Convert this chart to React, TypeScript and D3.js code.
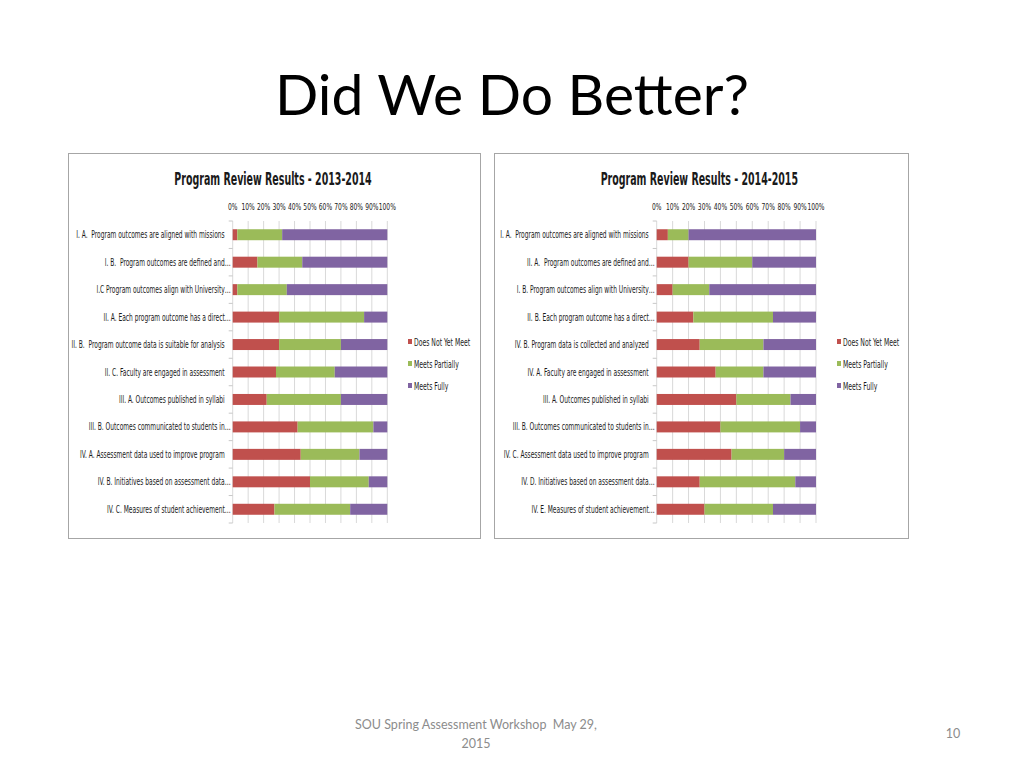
import React from "react";
import * as d3 from "d3";

// 2013-2014 review
const cats1314 = [
  "I. A.  Program outcomes are aligned with missions",
  "I. B.  Program outcomes are defined and…",
  "I.C Program outcomes align with University…",
  "II. A. Each program outcome has a direct…",
  "II. B.  Program outcome data is suitable for analysis",
  "II. C. Faculty are engaged in assessment",
  "III. A. Outcomes published in syllabi",
  "III. B. Outcomes communicated to students in…",
  "IV. A. Assessment data used to improve program",
  "IV. B. Initiatives based on assessment data…",
  "IV. C. Measures of student achievement…",
];
const notYet1314 = [3, 16, 3, 30, 30, 28, 22, 42, 44, 50, 27];
const partial1314 = [29, 29, 32, 55, 40, 38, 48, 49, 38, 38, 49];
const fully1314 = [68, 55, 65, 15, 30, 34, 30, 9, 18, 12, 24];

// 2014-2015 review
const cats1415 = [
  "I. A.  Program outcomes are aligned with missions",
  "II. A.  Program outcomes are defined and…",
  "I. B. Program outcomes align with University…",
  "II. B. Each program outcome has a direct…",
  "IV. B. Program data is collected and analyzed",
  "IV. A. Faculty are engaged in assessment",
  "III. A. Outcomes published in syllabi",
  "III. B. Outcomes communicated to students in…",
  "IV. C. Assessment data used to improve program",
  "IV. D. Initiatives based on assessment data…",
  "IV. E. Measures of student achievement…",
];
const notYet1415 = [7, 20, 10, 23, 27, 37, 50, 40, 47, 27, 30];
const partial1415 = [13, 40, 23, 50, 40, 30, 34, 50, 33, 60, 43];
const fully1415 = [80, 40, 67, 27, 33, 33, 16, 10, 20, 13, 27];

const seriesNames = ["Does Not Yet Meet", "Meets Partially", "Meets Fully"];
const seriesColors = ["#c0504d", "#9bbb59", "#8064a2"];
const tickLabels = [0, 10, 20, 30, 40, 50, 60, 70, 80, 90, 100];

const narrow = "'Liberation Sans Narrow', 'DejaVu Sans Condensed', sans-serif";

// the chart pictures are squeezed sideways, so text gets a horizontal scale
const SText = ({ x, y, size, sx = 0.66, anchor = "start", weight = "normal", children }: any) => (
  <text
    transform={`translate(${x},${y}) scale(${sx},1)`}
    fontFamily={narrow}
    fontSize={size}
    fontWeight={weight}
    textAnchor={anchor}
    fill="#1a1a1a"
    style={{ whiteSpace: "pre" }}
  >
    {children}
  </text>
);

const Chart = ({ left, right, plotX0, plotX1, legendX, title, cats, a, b, c }: any) => {
  const top = 221;
  const bottom = 523;
  const x = d3.scaleLinear().domain([0, 100]).range([plotX0, plotX1]);
  const y = d3.scaleBand().domain(cats).range([top, bottom]).paddingInner(0.6).paddingOuter(0.3);
  const rows = cats.map((k: string, i: number) => ({ k, s0: a[i], s1: b[i], s2: c[i] }));
  const stack = d3.stack<any>().keys(["s0", "s1", "s2"]).offset(d3.stackOffsetExpand);
  const layers = stack(rows);
  const step = y.step();
  const bounds = d3.range(cats.length + 1).map((i) => top + i * step);

  return (
    <g>
      <rect x={left + 0.5} y={153.5} width={right - left} height={385} fill="#fff" stroke="#a6a6a6" />
      <SText x={(plotX0 + plotX1) / 2 - 37} y={185} size={17} sx={0.62} weight="bold" anchor="middle">
        {title}
      </SText>
      {tickLabels.map((t) => (
        <g key={t}>
          <line x1={x(t)} x2={x(t)} y1={top} y2={bottom} stroke="#d9d9d9" strokeWidth={1} />
          <SText x={x(t)} y={210} size={9.5} sx={0.7} anchor="middle">
            {t + "%"}
          </SText>
        </g>
      ))}
      {bounds.map((by, i) => (
        <line key={i} x1={plotX0 - 4} x2={plotX0} y1={by} y2={by} stroke="#c8c8c8" />
      ))}
      {layers.map((layer, li) => (
        <g key={li} fill={seriesColors[li]}>
          {layer.map((d: any, i: number) => (
            <rect
              key={i}
              x={x(d[0] * 100)}
              y={y(d.data.k)}
              width={x(d[1] * 100) - x(d[0] * 100)}
              height={y.bandwidth()}
            />
          ))}
        </g>
      ))}
      {cats.map((k: string) => (
        <SText
          key={k}
          x={k.endsWith("…") ? plotX0 - 2 : plotX0 - 8}
          y={(y(k) as number) + y.bandwidth() / 2 + 3.5}
          size={10}
          anchor="end"
        >
          {k}
        </SText>
      ))}
      {seriesNames.map((n, i) => (
        <g key={n}>
          <rect x={legendX} y={339 + i * 22} width={4} height={5} fill={seriesColors[i]} />
          <SText x={legendX + 6} y={345.5 + i * 22} size={10} sx={0.68}>
            {n}
          </SText>
        </g>
      ))}
    </g>
  );
};

export default function App() {
  return (
    <svg
      width={1024}
      height={768}
      style={{ position: "absolute", left: 0, top: 0, background: "#fff" }}
    >
      <text
        x={512}
        y={115}
        textAnchor="middle"
        fontFamily="Lato, 'Open Sans', sans-serif"
        fontSize={57}
        fill="#000"
      >
        Did We Do Better?
      </text>
      <Chart
        left={68}
        right={480}
        plotX0={232.7}
        plotX1={387.3}
        legendX={408}
        title="Program Review Results - 2013-2014"
        cats={cats1314}
        a={notYet1314}
        b={partial1314}
        c={fully1314}
      />
      <Chart
        left={494}
        right={908}
        plotX0={656.7}
        plotX1={816}
        legendX={837}
        title="Program Review Results - 2014-2015"
        cats={cats1415}
        a={notYet1415}
        b={partial1415}
        c={fully1415}
      />
      <g fontFamily="Lato, 'Open Sans', sans-serif" fontSize={12.5} fill="#8c8c8c" textAnchor="middle">
        <text x={476} y={729} style={{ whiteSpace: "pre" }}>
          SOU Spring Assessment Workshop  May 29,
        </text>
        <text x={476} y={748}>2015</text>
        <text x={953} y={738}>10</text>
      </g>
    </svg>
  );
}
